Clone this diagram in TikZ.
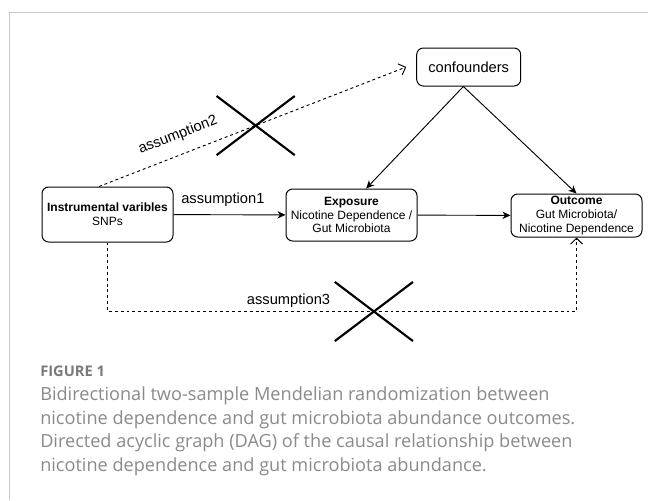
\documentclass[tikz,border=0pt]{standalone}
\usepackage{fontspec}
\setmainfont{Liberation Sans}
\newfontfamily\captionfamily{Open Sans}
\usepackage{tikz}
\usepackage{xcolor}
\usetikzlibrary{
    arrows.meta,
    positioning,
    calc,
    shapes.misc
}
\definecolor{framegray}{HTML}{C8C8C8}
\definecolor{captiongray}{HTML}{8A8A8A}
\definecolor{figuregray}{HTML}{7A7A7A}
\tikzset{
    % Variable box style
    varbox/.style={
        rectangle,
        rounded corners=5pt,
        minimum width=98.25pt,
        align=center,
        font=\fontsize{9}{10.4}\selectfont,
        draw=black,
        line width=0.75pt,
        inner xsep=2pt,
        inner ysep=1pt
    },
    % Arrow styles
    causal/.style={
        -{Stealth[length=6pt, width=5.5pt, inset=1.8pt]},
        line width=0.7pt,
        draw=black
    },
    assume/.style={
        -{Straight Barb[length=4.5pt, width=9pt]},
        line width=0.7pt,
        dash pattern=on 2.2pt off 2.2pt,
        draw=black
    },
    % Crossed-out mark
    xmark/.style={
        cross out,
        draw=black,
        solid,
        line width=1.6pt,
        minimum width=57pt,
        minimum height=42.75pt,
        inner sep=0pt
    },
    % Label style
    asmlabel/.style={
        font=\fontsize{11}{13}\selectfont,
        inner sep=1pt
    },
    % Caption styles
    figlabel/.style={
        font=\captionfamily\bfseries\fontsize{11}{12}\selectfont,
        text=figuregray,
        inner sep=0pt
    },
    captiontext/.style={
        font=\captionfamily\fontsize{13.6}{17.6}\selectfont,
        text=captiongray,
        align=left,
        inner sep=0pt
    },
    framerule/.style={
        draw=framegray,
        line width=1.1pt
    }
}

\begin{document}
\begin{tikzpicture}[x=0.75pt, y=-0.75pt]
    \useasboundingbox (0,0) rectangle (648,500);

    % Page frame
    \draw[framerule] (9.5,500) -- (9.5,12.5) -- (648,12.5);

    % Variables
    \node[varbox, minimum height=41.25pt] (iv) at (107.5,214.5) {\textbf{Instrumental varibles}\\SNPs};
    \node[varbox, minimum height=39pt] (exposure) at (351.5,215) {\textbf{Exposure}\\Nicotine Dependence /\\Gut Microbiota};
    \node[varbox, minimum height=32.25pt] (outcome) at (576.5,215.5) {\textbf{Outcome}\\Gut Microbiota/\\Nicotine Dependence};
    \node[varbox, minimum width=78pt, minimum height=28.5pt, font=\fontsize{11}{13}\selectfont] (conf) at (468.7,67) {confounders};

    % Causal paths
    \draw[causal] (iv) -- node[asmlabel, pos=0, anchor=south west, xshift=4.5pt, yshift=5pt] {assumption1} (exposure);
    \draw[causal] (exposure) -- (outcome);
    \draw[causal] ([xshift=-4pt]conf.south) -- ([xshift=11pt]exposure.north);
    \draw[causal] ([xshift=-4pt]conf.south) -- (outcome.north);

    % Assumption paths
    \draw[assume] ([xshift=-6.4pt]iv.north) -- node[asmlabel, sloped, above=8pt, pos=0.28] {assumption2} node[xmark, pos=0.51] (cross2) {} ([xshift=-7.5pt]conf.west);

    \coordinate (lowleft) at ([yshift=-51.75pt]iv.south);
    \coordinate (lowright) at (lowleft -| outcome.south);
    \draw[assume] (iv.south) -- (lowleft) -- node[asmlabel, above=1.5pt, pos=0.386] {assumption3} node[xmark, pos=0.568] (cross3) {} (lowright) -- (outcome.south);

    % Caption
    \node[figlabel, anchor=base west] (fig) at (40,376.7) {FIGURE 1};
    \node[captiontext, anchor=base west] (caption) at (40,471) {Bidirectional two-sample Mendelian randomization between\\nicotine dependence and gut microbiota abundance outcomes.\\Directed acyclic graph (DAG) of the causal relationship between\\nicotine dependence and gut microbiota abundance.};

\end{tikzpicture}
\end{document}
